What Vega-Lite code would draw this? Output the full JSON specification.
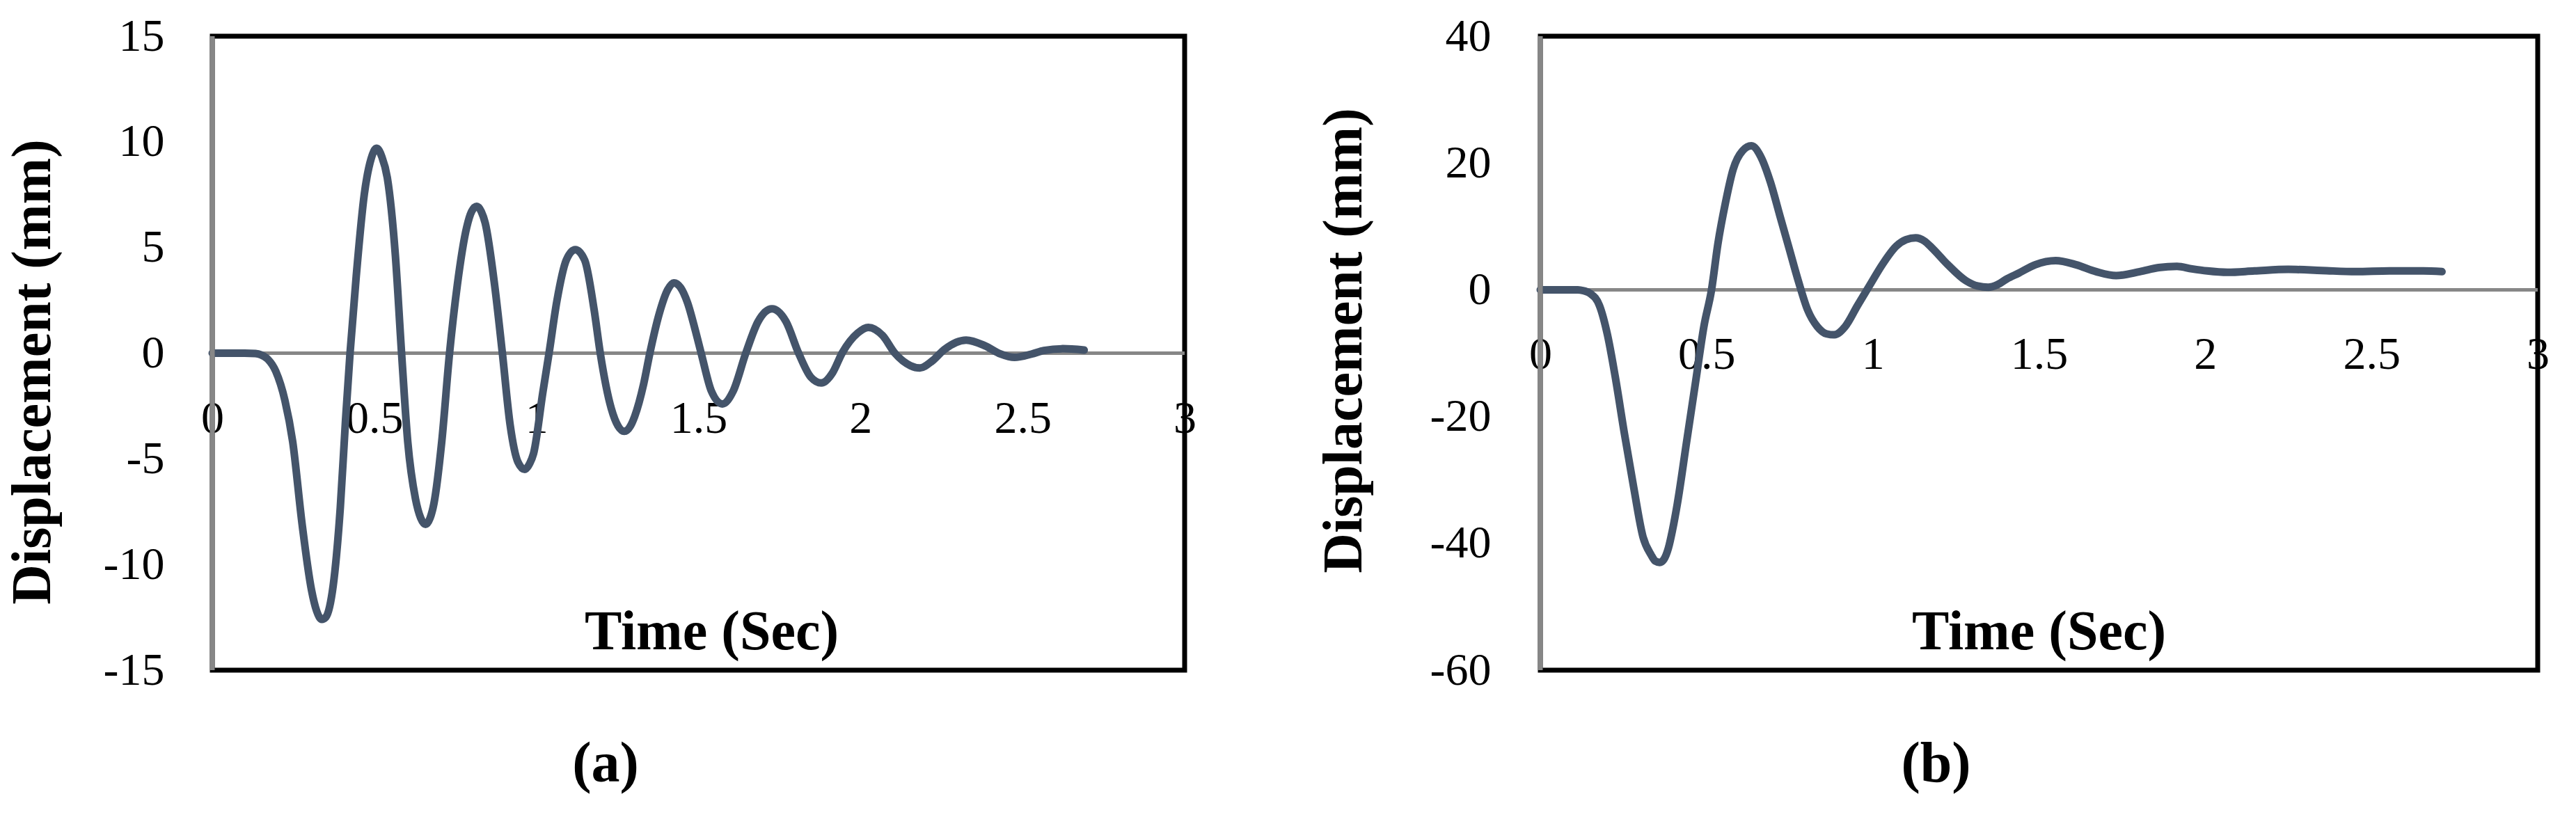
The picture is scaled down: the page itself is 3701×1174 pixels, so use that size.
{
  "$schema": "https://vega.github.io/schema/vega-lite/v6.json",
  "background": "white",
  "padding": {"left": 3, "top": 15, "right": 0, "bottom": 0},
  "spacing": 511,
  "bounds": "flush",
  "datasets": {
    "a": [
      {"t": 0, "v": 0}, {"t": 0.05, "v": 0}, {"t": 0.1, "v": 0}, {"t": 0.133, "v": -0.02},
      {"t": 0.15, "v": -0.08}, {"t": 0.171, "v": -0.28}, {"t": 0.196, "v": -0.86}, {"t": 0.224, "v": -2.23},
      {"t": 0.248, "v": -4.18}, {"t": 0.277, "v": -8.08}, {"t": 0.306, "v": -11.2}, {"t": 0.322, "v": -12.2},
      {"t": 0.338, "v": -12.6}, {"t": 0.35, "v": -12.5}, {"t": 0.362, "v": -12.0}, {"t": 0.373, "v": -11.0},
      {"t": 0.383, "v": -9.6}, {"t": 0.395, "v": -7.3},
      {"t": 0.411, "v": -3.2}, {"t": 0.425, "v": 0}, {"t": 0.444, "v": 3.62}, {"t": 0.469, "v": 7.52},
      {"t": 0.49, "v": 9.2}, {"t": 0.507, "v": 9.7}, {"t": 0.523, "v": 9.3}, {"t": 0.54, "v": 8.3},
      {"t": 0.565, "v": 4.6}, {"t": 0.584, "v": 0}, {"t": 0.603, "v": -4.18}, {"t": 0.627, "v": -6.9},
      {"t": 0.643, "v": -7.8}, {"t": 0.658, "v": -8.1}, {"t": 0.672, "v": -7.8}, {"t": 0.684, "v": -7.1},
      {"t": 0.708, "v": -4.18}, {"t": 0.732, "v": 0}, {"t": 0.756, "v": 3.23}, {"t": 0.785, "v": 5.96},
      {"t": 0.8, "v": 6.7}, {"t": 0.816, "v": 6.95}, {"t": 0.83, "v": 6.7}, {"t": 0.842, "v": 6.16},
      {"t": 0.871, "v": 3.23}, {"t": 0.895, "v": 0}, {"t": 0.919, "v": -3.4}, {"t": 0.943, "v": -5.15},
      {"t": 0.964, "v": -5.5}, {"t": 0.98, "v": -5.2}, {"t": 0.991, "v": -4.76}, {"t": 1.02, "v": -1.84},
      {"t": 1.039, "v": 0}, {"t": 1.063, "v": 2.45}, {"t": 1.092, "v": 4.4}, {"t": 1.12, "v": 4.9},
      {"t": 1.149, "v": 4.4}, {"t": 1.178, "v": 2.06}, {"t": 1.197, "v": 0}, {"t": 1.231, "v": -2.62},
      {"t": 1.252, "v": -3.45}, {"t": 1.271, "v": -3.7}, {"t": 1.29, "v": -3.45}, {"t": 1.303, "v": -3.0},
      {"t": 1.331, "v": -1.45}, {"t": 1.35, "v": 0}, {"t": 1.379, "v": 1.87}, {"t": 1.405, "v": 3.0},
      {"t": 1.424, "v": 3.33}, {"t": 1.445, "v": 3.1}, {"t": 1.466, "v": 2.4}, {"t": 1.49, "v": 1.1},
      {"t": 1.51, "v": -0.1}, {"t": 1.54, "v": -1.8}, {"t": 1.574, "v": -2.4}, {"t": 1.607, "v": -1.8},
      {"t": 1.646, "v": 0}, {"t": 1.684, "v": 1.5}, {"t": 1.727, "v": 2.1}, {"t": 1.77, "v": 1.5},
      {"t": 1.809, "v": 0}, {"t": 1.847, "v": -1.14}, {"t": 1.879, "v": -1.41}, {"t": 1.914, "v": -0.92},
      {"t": 1.943, "v": 0}, {"t": 1.991, "v": 0.95}, {"t": 2.024, "v": 1.22}, {"t": 2.068, "v": 0.84},
      {"t": 2.106, "v": 0}, {"t": 2.154, "v": -0.59}, {"t": 2.183, "v": -0.7}, {"t": 2.221, "v": -0.37},
      {"t": 2.259, "v": 0.18}, {"t": 2.326, "v": 0.62}, {"t": 2.384, "v": 0.35}, {"t": 2.432, "v": -0.04},
      {"t": 2.475, "v": -0.2}, {"t": 2.528, "v": -0.04}, {"t": 2.566, "v": 0.13}, {"t": 2.624, "v": 0.21},
      {"t": 2.69, "v": 0.15}
    ],
    "b": [
      {"t": 0, "v": 0}, {"t": 0.05, "v": 0}, {"t": 0.113, "v": 0}, {"t": 0.13, "v": -0.15},
      {"t": 0.15, "v": -0.57}, {"t": 0.178, "v": -2.5}, {"t": 0.202, "v": -7.1}, {"t": 0.225, "v": -13.6},
      {"t": 0.253, "v": -22.7}, {"t": 0.281, "v": -31.2}, {"t": 0.309, "v": -39.0}, {"t": 0.333, "v": -41.8},
      {"t": 0.346, "v": -42.8}, {"t": 0.359, "v": -43.0}, {"t": 0.372, "v": -42.5}, {"t": 0.385, "v": -40.8},
      {"t": 0.398, "v": -37.8}, {"t": 0.412, "v": -33.8},
      {"t": 0.44, "v": -24.0}, {"t": 0.468, "v": -14.2}, {"t": 0.492, "v": -5.8}, {"t": 0.515, "v": 0},
      {"t": 0.534, "v": 7.2}, {"t": 0.557, "v": 13.75}, {"t": 0.58, "v": 19.0}, {"t": 0.608, "v": 21.9},
      {"t": 0.635, "v": 22.7}, {"t": 0.664, "v": 20.9}, {"t": 0.692, "v": 17.0}, {"t": 0.72, "v": 11.8},
      {"t": 0.748, "v": 6.6}, {"t": 0.776, "v": 1.4}, {"t": 0.804, "v": -3.17}, {"t": 0.833, "v": -5.8},
      {"t": 0.861, "v": -6.95}, {"t": 0.884, "v": -7.1}, {"t": 0.917, "v": -5.8}, {"t": 0.954, "v": -2.5},
      {"t": 0.991, "v": 0.73}, {"t": 1.029, "v": 4.0}, {"t": 1.071, "v": 6.9}, {"t": 1.1, "v": 7.9},
      {"t": 1.129, "v": 8.2}, {"t": 1.155, "v": 7.7}, {"t": 1.178, "v": 6.6}, {"t": 1.225, "v": 4.0},
      {"t": 1.281, "v": 1.4}, {"t": 1.315, "v": 0.6}, {"t": 1.347, "v": 0.4}, {"t": 1.375, "v": 0.8},
      {"t": 1.403, "v": 1.7}, {"t": 1.438, "v": 2.6}, {"t": 1.489, "v": 3.96}, {"t": 1.55, "v": 4.6},
      {"t": 1.611, "v": 3.96}, {"t": 1.672, "v": 2.86}, {"t": 1.732, "v": 2.24}, {"t": 1.803, "v": 2.86},
      {"t": 1.86, "v": 3.5}, {"t": 1.915, "v": 3.7}, {"t": 1.96, "v": 3.3}, {"t": 2.006, "v": 2.97},
      {"t": 2.067, "v": 2.75}, {"t": 2.148, "v": 2.97}, {"t": 2.25, "v": 3.22}, {"t": 2.351, "v": 3.04},
      {"t": 2.453, "v": 2.86}, {"t": 2.554, "v": 2.97}, {"t": 2.656, "v": 2.97}, {"t": 2.712, "v": 2.86}
    ]
  },
  "hconcat": [
    {
      "width": 1397,
      "height": 911,
      "title": {"text": "(a)", "orient": "bottom", "anchor": "middle", "frame": "group", "dx": -133.5, "offset": 127, "baseline": "alphabetic", "font": "Liberation Serif", "fontSize": 82, "fontWeight": "bold", "color": "black"},
      "layer": [
        {
          "data": {"values": [{}]},
          "mark": {"type": "rule", "color": "#878787", "strokeWidth": 5},
          "encoding": {"y": {"datum": 0, "type": "quantitative", "title": "Displacement (mm)"}}
        },
        {
          "data": {"name": "a"},
          "mark": {"type": "line", "color": "#44546A", "strokeWidth": 11, "interpolate": "monotone", "strokeCap": "round", "strokeJoin": "round"},
          "encoding": {
            "x": {
              "field": "t", "type": "quantitative",
              "scale": {"domain": [0, 3], "nice": false, "zero": false},
              "axis": {
                "values": [0, 0.5, 1, 1.5, 2, 2.5, 3], "labelExpr": "datum.value + ''",
                "domain": false, "ticks": false, "tickSize": 0, "grid": false,
                "labelPadding": 62, "labelFontSize": 66, "labelFont": "Liberation Serif", "labelColor": "black",
                "labelFlush": false, "labelOverlap": false, "labelBound": false,
                "offset": -455.5,
                "title": "Time (Sec)", "titleFont": "Liberation Serif", "titleFontSize": 80, "titleFontWeight": "bold", "titleColor": "black",
                "titleX": 717, "titleY": 425, "titleBaseline": "alphabetic", "titleAlign": "center"
              }
            },
            "y": {
              "field": "v", "type": "quantitative",
              "scale": {"domain": [-15, 15], "nice": false, "zero": false},
              "axis": {
                "values": [-15, -10, -5, 0, 5, 10, 15], "labelExpr": "datum.value + ''",
                "domain": false, "ticks": false, "tickSize": 0, "grid": false,
                "labelPadding": 69, "labelFontSize": 66, "labelFont": "Liberation Serif", "labelColor": "black",
                "labelOverlap": false, "labelBound": false, "labelFlush": false,
                "title": "Displacement (mm)", "titleFont": "Liberation Serif", "titleFontSize": 80, "titleFontWeight": "bold", "titleColor": "black",
                "titleX": -234, "titleY": 482, "titleBaseline": "alphabetic", "titleAlign": "center", "titleAngle": 270
              }
            }
          }
        },
        {
          "data": {"values": [{}]},
          "mark": {"type": "rule", "color": "#878787", "strokeWidth": 7},
          "encoding": {"x": {"datum": 0, "type": "quantitative", "title": "Time (Sec)"}}
        }
      ]
    },
    {
      "width": 1433,
      "height": 911,
      "title": {"text": "(b)", "orient": "bottom", "anchor": "middle", "frame": "group", "dx": -148, "offset": 127, "baseline": "alphabetic", "font": "Liberation Serif", "fontSize": 82, "fontWeight": "bold", "color": "black"},
      "layer": [
        {
          "data": {"values": [{}]},
          "mark": {"type": "rule", "color": "#878787", "strokeWidth": 5},
          "encoding": {"y": {"datum": 0, "type": "quantitative", "title": "Displacement (mm)"}}
        },
        {
          "data": {"name": "b"},
          "mark": {"type": "line", "color": "#44546A", "strokeWidth": 11, "interpolate": "monotone", "strokeCap": "round", "strokeJoin": "round"},
          "encoding": {
            "x": {
              "field": "t", "type": "quantitative",
              "scale": {"domain": [0, 3], "nice": false, "zero": false},
              "axis": {
                "values": [0, 0.5, 1, 1.5, 2, 2.5, 3], "labelExpr": "datum.value + ''",
                "domain": false, "ticks": false, "tickSize": 0, "grid": false,
                "labelPadding": 61, "labelFontSize": 66, "labelFont": "Liberation Serif", "labelColor": "black",
                "labelFlush": false, "labelOverlap": false, "labelBound": false,
                "offset": -546.6,
                "title": "Time (Sec)", "titleFont": "Liberation Serif", "titleFontSize": 80, "titleFontWeight": "bold", "titleColor": "black",
                "titleX": 716, "titleY": 516, "titleBaseline": "alphabetic", "titleAlign": "center"
              }
            },
            "y": {
              "field": "v", "type": "quantitative",
              "scale": {"domain": [-60, 40], "nice": false, "zero": false},
              "axis": {
                "values": [-60, -40, -20, 0, 20, 40], "labelExpr": "datum.value + ''",
                "domain": false, "ticks": false, "tickSize": 0, "grid": false,
                "labelPadding": 71, "labelFontSize": 66, "labelFont": "Liberation Serif", "labelColor": "black",
                "labelOverlap": false, "labelBound": false, "labelFlush": false,
                "title": "Displacement (mm)", "titleFont": "Liberation Serif", "titleFontSize": 80, "titleFontWeight": "bold", "titleColor": "black",
                "titleX": -258, "titleY": 437, "titleBaseline": "alphabetic", "titleAlign": "center", "titleAngle": 270
              }
            }
          }
        },
        {
          "data": {"values": [{}]},
          "mark": {"type": "rule", "color": "#878787", "strokeWidth": 7},
          "encoding": {"x": {"datum": 0, "type": "quantitative", "title": "Time (Sec)"}}
        }
      ]
    }
  ],
  "config": {
    "view": {"stroke": "black", "strokeWidth": 7},
    "font": "Liberation Serif"
  }
}
